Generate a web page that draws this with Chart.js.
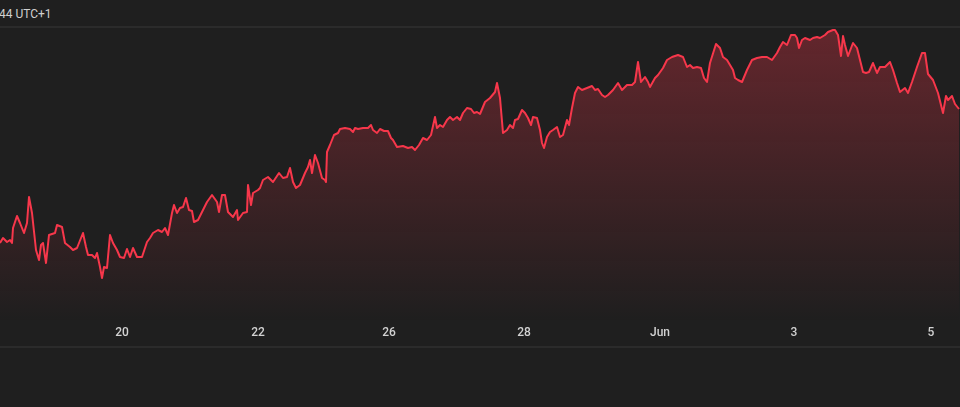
<!DOCTYPE html>
<html>
<head>
<meta charset="utf-8">
<script src="https://cdn.jsdelivr.net/npm/chart.js@4"></script>
<style>
  html, body { margin: 0; padding: 0; background: #1f1f1f; overflow: hidden; }
  #wrap { position: relative; width: 960px; height: 407px; background: #1f1f1f; }
  #stamp { position: absolute; left: -1px; top: 7px; font: 12px Roboto, "Noto Sans", sans-serif; color: #d0d0d0; white-space: nowrap; }
  .rule { position: absolute; left: 0; width: 960px; height: 2px; background: #2b2b2b; }
  canvas { position: absolute; left: 0; top: 0; }
</style>
</head>
<body>
<div id="wrap">
  <div id="stamp">44 UTC+1</div>
  <div class="rule" style="top:26px"></div>
  <div class="rule" style="top:346px"></div>
  <canvas id="c" width="960" height="407"></canvas>
</div>
<script>
// Bar index (time order) and price readings
const bars = [0,3,7,10,12,13,17,20,24,27,29,32,36,39,41,43,46,49,55,57,62,65,70,73,77,83,86,88,92,95,97,100,102,104,107,
110,113,117,120,124,127,130,133,137,142,147,150,153,158,162,165,168,172,174,177,180,183,186,189,192,194,198,
203,207,212,217,219,222,225,228,233,237,238,243,247,248,251,253,258,260,263,268,273,279,283,287,290,293,296,300,
305,308,310,312,315,318,322,325,326,327,330,334,338,
340,345,350,353,355,358,363,368,371,373,377,380,384,388,391,393,397,403,408,412,415,419,423,427,431,435,437,440,443,447,450,453,457,460,463,467,471,474,477,480,485,490,495,497,500,503,507,510,513,515,518,522,525,528,531,533,537,540,542,544,547,550,
553,557,560,563,567,569,572,575,578,582,587,592,595,598,602,605,608,613,618,622,627,632,635,638,641,645,648,650,655,658,663,667,672,678,683,687,690,693,697,701,704,707,710,716,720,723,727,730,733,735,738,742,
747,752,757,762,767,772,777,780,783,787,791,795,797,799,802,805,810,813,817,820,825,828,833,835,838,841,843,845,848,853,857,860,863,866,869,873,877,880,885,890,893,897,900,905,908,912,917,922,925,928,933,938,943,946,948,952,955,959];

const prices = [157,162,158,160,157,172,184,177,167,177,203,187,150,140,155,157,137,165,167,175,173,157,153,150,152,167,153,145,145,142,147,133,122,133,132,
165,157,150,143,142,151,143,152,143,143,158,162,167,170,168,172,165,187,195,187,192,193,202,190,189,178,180,
190,198,205,198,188,205,205,188,183,190,180,187,188,215,195,207,210,212,220,223,218,227,222,223,232,218,212,215,
227,233,240,227,245,237,222,220,218,248,255,265,267,
271,272,271,268,272,271,272,272,275,270,267,271,269,269,262,260,253,254,252,253,250,255,262,260,265,283,272,275,273,280,283,280,283,280,287,292,291,287,288,286,298,302,308,317,302,267,270,275,272,280,281,290,287,282,275,283,282,270,257,252,263,268,
270,273,263,265,280,275,292,307,313,310,312,314,310,311,305,303,305,310,317,310,315,315,318,338,318,323,318,313,322,325,332,340,343,345,343,333,335,332,333,332,322,318,337,356,352,343,340,335,330,322,320,318,
330,340,342,343,343,340,347,353,358,355,365,365,362,352,360,362,360,362,363,362,365,368,370,370,365,344,364,355,344,357,352,340,328,327,328,337,327,333,333,338,330,317,308,312,307,318,333,347,347,326,320,307,287,304,300,304,296,291];

const tickBars = [122, 258, 389, 524, 660, 794, 931];
const tickLabels = ['20', '22', '26', '28', 'Jun', '3', '5'];

const points = bars.map((b, i) => ({ x: b, y: prices[i] }));

new Chart(document.getElementById('c'), {
  type: 'line',
  data: {
    datasets: [{
      data: points,
      borderColor: '#f7374b',
      borderWidth: 2,
      borderJoinStyle: 'round',
      pointRadius: 0,
      tension: 0,
      fill: 'start',
      backgroundColor: (ctx) => {
        const chart = ctx.chart;
        const area = chart.chartArea;
        if (!area) return 'rgba(247,55,75,0.15)';
        const g = chart.ctx.createLinearGradient(0, area.top, 0, area.bottom);
        g.addColorStop(0, 'rgba(247,55,75,0.32)');
        g.addColorStop(0.55, 'rgba(247,55,75,0.14)');
        g.addColorStop(1, 'rgba(247,55,75,0)');
        return g;
      }
    }]
  },
  options: {
    responsive: false,
    devicePixelRatio: 1,
    animation: false,
    layout: { padding: { top: 28, bottom: 61, left: 0, right: 0 } },
    plugins: { legend: { display: false }, tooltip: { enabled: false } },
    scales: {
      x: {
        type: 'linear',
        min: 0,
        max: 960,
        grid: { display: false, drawTicks: false },
        border: { display: false },
        afterFit: (s) => { s.height = 24; },
        afterBuildTicks: (s) => { s.ticks = tickBars.map(v => ({ value: v })); },
        ticks: {
          autoSkip: false,
          maxRotation: 0,
          padding: 4,
          color: '#d2d2d2',
          font: { family: 'Roboto', size: 12, weight: '500' },
          callback: (v, i) => tickLabels[i]
        }
      },
      y: {
        display: false,
        min: 78,
        max: 372
      }
    }
  }
});
</script>
</body>
</html>
